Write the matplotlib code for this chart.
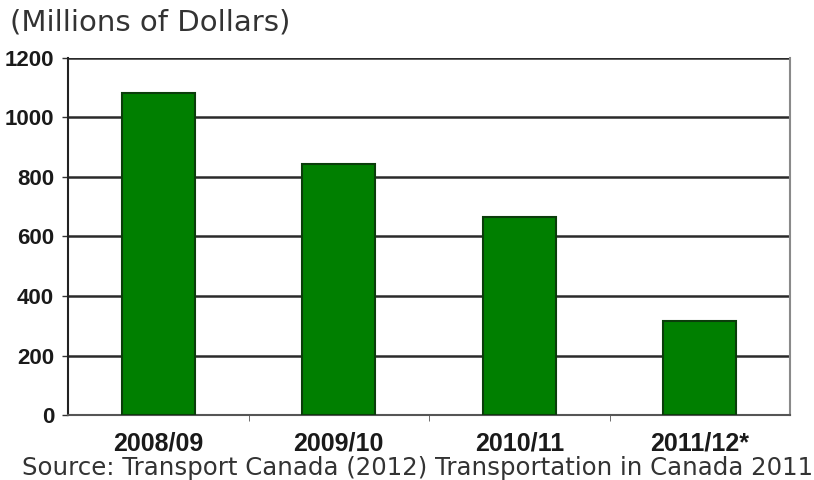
import matplotlib.pyplot as plt
from matplotlib import font_manager

periods = ["2008/09", "2009/10", "2010/11", "2011/12*"]
spending = [1082, 845, 665, 316]
yticks = [0, 200, 400, 600, 800, 1000, 1200]

installed = {f.name for f in font_manager.fontManager.ttflist}
narrow = "Liberation Sans Narrow" if "Liberation Sans Narrow" in installed else "Liberation Sans"
plt.rcParams["font.family"] = ["Liberation Sans", "DejaVu Sans"]

fig = plt.figure(figsize=(8.14, 4.8), dpi=100)
ax = fig.add_axes([68 / 814, 1 - 415 / 480, 722 / 814, 357 / 480])

x = range(len(periods))
ax.bar(x, spending, width=0.405, color="#007f00", edgecolor="#0b3d0b",
       linewidth=1.5, zorder=3)

ax.set_xlim(-0.5, len(periods) - 0.5)
ax.set_ylim(0, 1200)
ax.set_yticks(yticks)
ax.set_yticklabels([str(v) for v in yticks], fontsize=16, fontweight="bold",
                   color="#1a1a1a")
ax.set_xticks(list(x))
ax.set_xticklabels(periods, fontsize=23 if narrow != "Liberation Sans" else 18,
                   fontweight="bold", family=narrow, color="#1a1a1a")
ax.tick_params(axis="x", length=0, pad=12)
ax.tick_params(axis="y", length=4, width=1, color="#333333", pad=6)
# small ticks between categories
ax.set_xticks([0.5, 1.5, 2.5], minor=True)
ax.tick_params(axis="x", which="minor", length=4, color="#555555")

for v in yticks[1:]:
    ax.axhline(v, color="#2a2a2a", linewidth=1.8, zorder=1)

ax.spines["left"].set_color("#222222")
ax.spines["left"].set_linewidth(1.5)
ax.spines["bottom"].set_color("#555555")
ax.spines["bottom"].set_linewidth(1.5)
ax.spines["right"].set_color("#8a8a8a")
ax.spines["right"].set_linewidth(1.5)
ax.spines["top"].set_visible(False)

fig.text(10 / 814, 1 - 23 / 480, "(Millions of Dollars)", fontsize=21,
         family="DejaVu Sans", color="#333333", va="center", ha="left")

fig.text(22 / 814, 1 - 475 / 480,
         "Source: Transport Canada (2012) Transportation in Canada 2011",
         fontsize=17.6, family="DejaVu Sans", color="#333333",
         va="baseline", ha="left")

fig.savefig("out.png", dpi=100)
